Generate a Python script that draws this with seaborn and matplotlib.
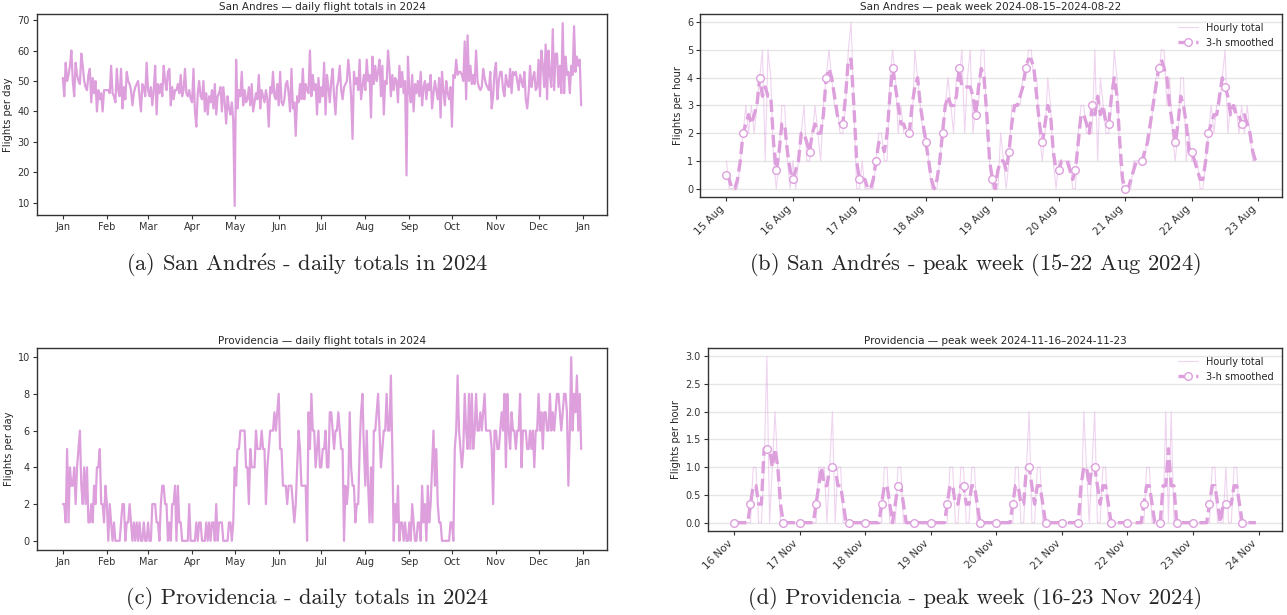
import numpy as np
import pandas as pd
import matplotlib
matplotlib.use("Agg")
import matplotlib.pyplot as plt
import matplotlib.dates as mdates
import seaborn as sns

# ---------------- data ----------------
sa_jan = [51,45,56,50,52,55,60,50,45,56,52,50,49,59,55,50,48,47,52,54,43,51,46,50,40,47,44,46,40,47,47]
sa_feb = [47,47,46,55,46,45,43,54,47,45,54,41,48,44,53,50,49,47,42,46,48,49,50,45,40,49,48,45,56]
sa_mar = [47,45,48,42,47,55,39,49,46,49,45,55,50,47,53,54,42,48,44,47,47,49,46,52,45,47,54,46,45,47,44]
sa_apr = [43,54,40,35,46,50,45,44,50,40,46,39,45,43,47,41,49,39,45,46,48,40,48,43,36,45,41,39,43,37]
sa_may = [9,57,41,47,45,53,42,47,43,44,48,42,49,40,43,46,44,52,41,47,45,43,47,44,35,48,46,53,45,44,49]
sa_jun = [42,53,43,42,44,49,50,46,40,54,41,43,32,45,43,49,44,54,44,49,47,46,60,45,52,47,49,39,51,43]
sa_jul = [48,45,56,39,52,48,43,50,54,45,39,48,50,55,47,44,48,49,50,57,52,45,31,53,49,51,47,57,44,48,52]
sa_aug = [47,57,50,52,38,58,49,55,50,53,57,45,55,39,50,49,60,54,45,52,47,51,50,43,55,48,53,46,50,19,58]
sa_sep = [47,43,52,40,49,46,50,45,53,42,48,50,44,49,47,52,41,46,50,47,44,51,38,53,47,42,50,46,44,48]
sa_oct = [35,52,51,57,52,53,53,52,50,63,44,65,50,55,49,52,49,60,50,48,47,48,54,51,49,48,47,53,41,45,53]
sa_nov = [56,44,50,53,53,47,45,52,49,48,54,46,53,52,53,50,47,52,50,48,53,44,41,46,55,48,51,53,47,48]
sa_dec = [57,45,60,55,48,62,44,60,52,48,67,47,59,59,48,55,46,69,46,58,52,53,46,55,52,68,53,58,55,57,42]

pr_jan = [2,2,1,5,1,4,3,3,4,2,4,5,6,3,2,4,2,4,1,1,2,1,3,2,4,4,5,2,2,1,3]
pr_feb = [2,0,2,1,0,1,0,0,0,0,1,2,2,0,1,1,2,1,0,1,0,1,0,1,0,0,1,0,0]
pr_mar = [1,0,0,2,2,2,1,1,0,2,3,3,2,2,0,1,0,2,2,3,0,3,1,1,0,0,0,0,0,2,0]
pr_apr = [0,0,0,1,0,1,1,0,0,0,1,0,1,0,1,1,0,2,0,1,1,1,0,0,0,0,1,1,0,1]
pr_may = [4,3,5,5,6,6,6,6,4,4,2,5,4,4,4,6,5,5,5,6,5,5,2,4,5,6,6,6,7,6,7]
pr_jun = [8,5,5,3,3,3,2,3,3,3,2,1,2,4,6,5,3,3,3,3,0,7,5,8,6,6,4,5,6,4]
pr_jul = [4,5,5,6,4,4,7,7,6,5,6,6,7,6,5,5,0,3,2,3,7,4,3,3,1,2,2,5,7,8,5]
pr_aug = [3,6,3,1,4,1,6,6,7,8,6,4,5,6,6,8,6,6,9,5,0,2,1,3,0,1,1,0,1,0,0]
pr_sep = [1,0,2,1,0,0,1,1,0,3,1,2,0,3,1,2,4,6,3,5,2,1,1,0,0,0,0,0,0,1]
pr_oct = [1,0,5,6,9,6,5,4,5,8,6,5,8,5,8,5,6,8,6,6,7,6,7,8,6,6,6,6,5,2,6]
pr_nov = [6,5,5,6,7,6,8,4,8,6,5,7,6,6,5,6,6,8,4,6,6,6,5,5,6,5,6,4,6,6]
pr_dec = [8,6,7,5,7,7,6,6,8,6,7,6,7,8,8,7,6,7,8,8,7,3,6,10,6,8,7,9,6,8,5]

# hourly totals, San Andres peak week (15-22 Aug 2024), one list per day (hours 0-23)
sa_h15 = [1,0,0,0,0,1,2,3,2,3,2,3,4,5,1,5,4,1,0,1,3,3,1,0]
sa_h16 = [1,0,1,2,3,1,1,2,3,2,1,3,4,5,4,3,3,2,2,3,5,6,3,0]
sa_h17 = [0,1,0,0,0,0,1,2,2,1,1,4,5,4,2,3,2,2,2,2,5,4,3,2]
sa_h18 = [2,1,0,0,0,1,2,3,4,3,2,4,4,5,2,4,5,2,3,3,5,5,2,1]
sa_h19 = [0,0,0,2,1,0,1,3,3,3,3,4,4,5,5,4,4,2,1,2,4,3,1,0]
sa_h20 = [1,1,1,1,1,0,0,2,3,3,2,2,2,5,1,4,3,2,2,3,5,4,1,0]
sa_h21 = [0,0,0,1,1,1,1,1,2,2,3,4,4,5,5,3,4,2,1,2,4,4,1,2]
sa_h22 = [1,1,1,0,0,1,2,3,2,3,3,4,5,2,3,3,3,2,3,2,3,2,1,1]

# hourly totals, Providencia peak week (16-23 Nov 2024)
pr_h16 = [0,0,0,0,0,0,0,1,1,0,0,1,3,0,1,2,1,0,0,0,0,0,0,0]
pr_h17 = [0,0,0,0,0,0,0,1,1,1,0,1,2,0,1,1,0,0,0,0,0,0,0,0]
pr_h18 = [0,0,0,0,0,0,0,1,1,0,0,0,1,1,0,0,0,0,0,0,0,0,0,0]
pr_h19 = [0,0,0,0,0,0,0,1,1,0,0,1,1,0,0,1,1,0,0,0,0,0,0,0]
pr_h20 = [0,0,0,0,0,0,0,1,1,0,0,1,2,0,0,1,1,0,0,0,0,0,0,0]
pr_h21 = [0,0,0,0,0,0,0,0,2,1,0,1,2,0,0,1,1,0,0,0,0,0,0,0]
pr_h22 = [0,0,0,0,0,0,0,1,1,0,0,0,0,0,2,0,2,0,0,0,0,0,0,0]
pr_h23 = [0,0,0,0,0,0,0,1,1,0,0,0,1,0,0,1,1,0,0,0,0,0,0,0]

titles = ["San Andres \u2014 daily flight totals in 2024",
          "San Andres \u2014 peak week 2024-08-15\u20132024-08-22",
          "Providencia \u2014 daily flight totals in 2024",
          "Providencia \u2014 peak week 2024-11-16\u20132024-11-23"]
captions = ["(a) San Andr\u00e9s - daily totals in 2024",
            "(b) San Andr\u00e9s - peak week (15-22 Aug 2024)",
            "(c) Providencia - daily totals in 2024",
            "(d) Providencia - peak week (16-23 Nov 2024)"]

# ---------------- build frames ----------------
sa_daily = sa_jan + sa_feb + sa_mar + sa_apr + sa_may + sa_jun + sa_jul + sa_aug + sa_sep + sa_oct + sa_nov + sa_dec
pr_daily = pr_jan + pr_feb + pr_mar + pr_apr + pr_may + pr_jun + pr_jul + pr_aug + pr_sep + pr_oct + pr_nov + pr_dec
df_sa = pd.DataFrame({"date": pd.date_range("2024-01-01", periods=len(sa_daily), freq="D"), "n": sa_daily})
df_pr = pd.DataFrame({"date": pd.date_range("2024-01-01", periods=len(pr_daily), freq="D"), "n": pr_daily})

sa_hourly = sa_h15 + sa_h16 + sa_h17 + sa_h18 + sa_h19 + sa_h20 + sa_h21 + sa_h22
pr_hourly = pr_h16 + pr_h17 + pr_h18 + pr_h19 + pr_h20 + pr_h21 + pr_h22 + pr_h23
wk_sa = pd.DataFrame({"t": pd.date_range("2024-08-15", periods=len(sa_hourly), freq="h"), "n": sa_hourly})
wk_pr = pd.DataFrame({"t": pd.date_range("2024-11-16", periods=len(pr_hourly), freq="h"), "n": pr_hourly})
for w in (wk_sa, wk_pr):
    w["s"] = w["n"].rolling(3, center=True, min_periods=1).mean()

# ---------------- style ----------------
sns.set_theme(style="ticks")
plt.rcParams["font.family"] = ["DejaVu Sans"]
plt.rcParams["mathtext.fontset"] = "cm"
plt.rcParams["axes.edgecolor"] = "#333333"
plt.rcParams["axes.linewidth"] = 1.0
plt.rcParams["xtick.color"] = "#333333"
plt.rcParams["ytick.color"] = "#333333"
COL = "#DDA0DD"

fig = plt.figure(figsize=(12.87, 6.15), dpi=100)
ax_a = fig.add_axes([0.0287, 0.6504, 0.443, 0.3268])
ax_b = fig.add_axes([0.5439, 0.6797, 0.4522, 0.2976])
ax_c = fig.add_axes([0.0287, 0.1057, 0.443, 0.3285])
ax_d = fig.add_axes([0.5501, 0.1366, 0.4460, 0.2976])


def daily(ax, df, title):
    sns.lineplot(data=df, x="date", y="n", ax=ax, color=COL, linewidth=1.6)
    ax.set_title(title, fontsize=7.5, pad=3)
    ax.set_xlabel("")
    ax.set_ylabel("Flights per day", fontsize=7.2, labelpad=3)
    ax.xaxis.set_major_locator(mdates.MonthLocator())
    ax.xaxis.set_major_formatter(mdates.DateFormatter("%b"))
    ax.tick_params(labelsize=7, length=3, width=0.8, pad=2)
    for s in ax.spines.values():
        s.set_visible(True)


def weekly(ax, w, title):
    ax.grid(axis="y", color="#e6e6e6", linewidth=1.0)
    ax.set_axisbelow(True)
    sns.lineplot(data=w, x="t", y="n", ax=ax, color=COL, alpha=0.45,
                 linewidth=0.8, label="Hourly total")
    sns.lineplot(data=w, x="t", y="s", ax=ax, color=COL, linewidth=2.4,
                 linestyle="--", marker="o", markevery=6, markersize=5.5,
                 markerfacecolor="white", markeredgecolor=COL,
                 markeredgewidth=1.0, label="3-h smoothed")
    ax.set_title(title, fontsize=7.5, pad=3)
    ax.set_xlabel("")
    ax.set_ylabel("Flights per hour", fontsize=7.2, labelpad=3)
    ax.xaxis.set_major_locator(mdates.DayLocator())
    ax.xaxis.set_major_formatter(mdates.DateFormatter("%d %b"))
    ax.tick_params(axis="y", labelsize=7, length=3, width=0.8, pad=2)
    ax.tick_params(axis="x", labelsize=7.5, length=3, width=0.8, pad=2)
    for lab in ax.get_xticklabels():
        lab.set_rotation(45)
        lab.set_ha("right")
    ax.legend(loc="upper right", frameon=False, fontsize=7, handlelength=2.0)
    for s in ax.spines.values():
        s.set_visible(True)


daily(ax_a, df_sa, titles[0])
weekly(ax_b, wk_sa, titles[1])
daily(ax_c, df_pr, titles[2])
weekly(ax_d, wk_pr, titles[3])

ax_a.set_yticks([10, 20, 30, 40, 50, 60, 70])
ax_b.set_yticks([0, 1, 2, 3, 4, 5, 6])
ax_c.set_yticks([0, 2, 4, 6, 8, 10])
ax_d.set_yticks([0.0, 0.5, 1.0, 1.5, 2.0, 2.5, 3.0])

cap_font = ["cmr10", "DejaVu Serif"]
positions = [(307, 265), (975, 265), (307, 599), (975, 599)]
for cap, (px, py) in zip(captions, positions):
    txt = cap.replace("\u00e9", r"$\acute{\mathrm{e}}$")
    fig.text(px / 1287, 1 - py / 615, txt, ha="center", va="center",
             fontsize=16.2, family=cap_font)

fig.savefig("out.png", dpi=100)
